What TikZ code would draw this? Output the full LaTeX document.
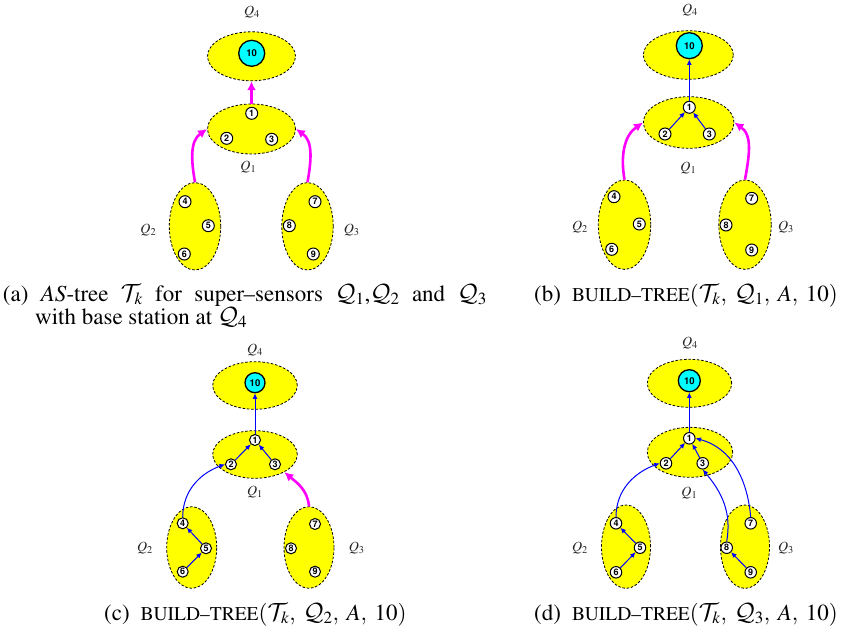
\documentclass[tikz,border=0pt]{standalone}
\usepackage[T1]{fontenc}
\usepackage{mathptmx}
\DeclareMathAlphabet{\mathcal}{OMS}{cmsy}{m}{n}
\usetikzlibrary{shapes.geometric,arrows.meta}
\definecolor{qyellow}{RGB}{255,255,0}
\definecolor{qcyan}{RGB}{0,255,255}
\definecolor{qmag}{RGB}{255,0,255}
\definecolor{qblue}{RGB}{0,0,255}
\newcommand\numfnt{\fontfamily{phv}\fontseries{b}\selectfont}
\newcommand\fakesc[1]{{\fontsize{19.5}{19.5}\selectfont #1}}
\newcommand\csep{,\hspace{5pt}}
\tikzset{
  cluster/.style={ellipse, draw=black, fill=qyellow, dash pattern=on 2.5pt off 1.8pt, line width=0.8pt, inner sep=0pt},
  sensor/.style={circle, draw=black, fill=white, line width=1pt, inner sep=0pt, minimum size=12pt, font=\numfnt\fontsize{9}{9}\selectfont},
  basest/.style={circle, draw=black, fill=qcyan, line width=1.3pt, inner sep=0pt, minimum size=26pt, font=\numfnt\fontsize{9.5}{9.5}\selectfont},
  barrow/.style={draw=qblue, line width=1pt, -{Latex[length=5.5pt,width=5pt]}},
  marrow/.style={draw=qmag, line width=2.6pt, -{Latex[length=9pt,width=9pt]}},
  qlabel/.style={font=\fontsize{14}{14}\selectfont, text=black!85, inner sep=0pt},
  capt/.style={font=\fontsize{23}{23}\selectfont, inner sep=0pt},
}
\begin{document}
\begin{tikzpicture}[x=1pt,y=1pt]
\useasboundingbox (0,0) rectangle (843,-629);
% ---------------- panel (a)
\node[cluster, minimum width=88pt, minimum height=49pt] (a4c) at (251.5,-56.3) {};
\node[basest] (a10) at (251.7,-53.3) {10};
\node[qlabel] (aL4) at (252,-12) {$Q_4$};
\node[cluster, minimum width=88pt, minimum height=50pt] (a1c) at (251.5,-129) {};
\node[sensor] (a1) at (251.7,-113.3) {1};
\node[sensor] (a2) at (226.7,-138.3) {2};
\node[sensor] (a3) at (271.7,-139.3) {3};
\node[qlabel] (aL1) at (248.3,-166.7) {$Q_1$};
\node[cluster, minimum width=51.4pt, minimum height=87.4pt] (a2c) at (195,-226.3) {};
\node[sensor] (a4) at (185,-201.7) {4};
\node[sensor] (a5) at (208.3,-225.7) {5};
\node[sensor] (a6) at (184.3,-254) {6};
\node[qlabel] (aL2) at (148.3,-230) {$Q_2$};
\node[cluster, minimum width=51.4pt, minimum height=87.4pt] (a3c) at (307.5,-226.3) {};
\node[sensor] (a7) at (315,-201.7) {7};
\node[sensor] (a8) at (289.3,-225.7) {8};
\node[sensor] (a9) at (313.3,-254) {9};
\node[qlabel] (aL3) at (351.7,-230) {$Q_3$};
\draw[marrow] (a1c) -- (a4c);
\draw[marrow] (a2c.north) to[out=100,in=215] (a1c.west);
\draw[marrow] (a3c.north) to[out=80,in=-35] (a1c.east);
% ---------------- panel (b)
\node[cluster, minimum width=90pt, minimum height=48.6pt] (b4c) at (688.3,-55) {};
\node[basest] (b10) at (689.3,-45.7) {10};
\node[qlabel] (bL4) at (690,-10) {$Q_4$};
\node[cluster, minimum width=90.6pt, minimum height=51.6pt] (b1c) at (688.7,-122.5) {};
\node[sensor] (b1) at (689.3,-107.3) {1};
\node[sensor] (b2) at (665,-134) {2};
\node[sensor] (b3) at (709.3,-134) {3};
\node[qlabel] (bL1) at (688.3,-168.3) {$Q_1$};
\node[cluster, minimum width=52.4pt, minimum height=89.4pt] (b2c) at (624.5,-224.7) {};
\node[sensor] (b4) at (614,-196.7) {4};
\node[sensor] (b5) at (639.3,-224) {5};
\node[sensor] (b6) at (611.7,-249.3) {6};
\node[qlabel] (bL2) at (580,-226.7) {$Q_2$};
\node[cluster, minimum width=52.4pt, minimum height=89.4pt] (b3c) at (745,-224.7) {};
\node[sensor] (b7) at (751.7,-198.3) {7};
\node[sensor] (b8) at (726,-225) {8};
\node[sensor] (b9) at (751.7,-250) {9};
\node[qlabel] (bL3) at (786,-226.7) {$Q_3$};
\draw[barrow] (b1) -- (b10);
\draw[barrow] (b2) -- (b1);
\draw[barrow] (b3) -- (b1);
\draw[marrow] (b2c.north) to[out=100,in=215] (b1c.west);
\draw[marrow] (b3c.north) to[out=80,in=-35] (b1c.east);
% ---------------- panel (c)
\begin{scope}[sensor/.append style={minimum size=11pt}]
\node[cluster, minimum width=84.6pt, minimum height=47.6pt] (c4c) at (255,-385.5) {};
\node[basest, minimum size=20pt] (c10) at (255,-382.7) {10};
\node[qlabel] (cL4) at (255,-350) {$Q_4$};
\node[cluster, minimum width=84.6pt, minimum height=47.6pt] (c1c) at (255,-454.5) {};
\node[sensor] (c1) at (255,-440) {1};
\node[sensor] (c2) at (231,-464.3) {2};
\node[sensor] (c3) at (275,-464.3) {3};
\node[qlabel] (cL1) at (255,-491.7) {$Q_1$};
\node[cluster, minimum width=50pt, minimum height=81.6pt] (c2c) at (191.7,-547.5) {};
\node[sensor] (c4) at (182.7,-523.3) {4};
\node[sensor] (c5) at (206,-548.3) {5};
\node[sensor] (c6) at (182.7,-571.7) {6};
\node[qlabel] (cL2) at (145,-548.3) {$Q_2$};
\node[cluster, minimum width=50pt, minimum height=81.6pt] (c3c) at (309,-547.5) {};
\node[sensor] (c7) at (315,-524) {7};
\node[sensor] (c8) at (291,-548.3) {8};
\node[sensor] (c9) at (315,-571.7) {9};
\node[qlabel] (cL3) at (356.7,-548.3) {$Q_3$};
\draw[barrow] (c1) -- (c10);
\draw[barrow] (c2) -- (c1);
\draw[barrow] (c3) -- (c1);
\draw[barrow] (c4.north) to[out=90,in=200] (c2.west);
\draw[barrow] (c5) -- (c4);
\draw[barrow] (c6) -- (c5);
\draw[marrow] (c3c.north) to[out=95,in=-40] (c1c.-31);
\end{scope}
% ---------------- panel (d)
\begin{scope}[sensor/.append style={minimum size=11.5pt}]
\node[cluster, minimum width=84.4pt, minimum height=48pt] (d4c) at (689.5,-383.3) {};
\node[basest, minimum size=22pt] (d10) at (689.3,-380.7) {10};
\node[qlabel] (dL4) at (690,-343.3) {$Q_4$};
\node[cluster, minimum width=85.4pt, minimum height=50pt] (d1c) at (690,-452.3) {};
\node[sensor] (d1) at (689.3,-438.3) {1};
\node[sensor] (d2) at (666,-463.3) {2};
\node[sensor] (d3) at (702.7,-463.3) {3};
\node[qlabel] (dL1) at (689.3,-493.3) {$Q_1$};
\node[cluster, minimum width=49pt, minimum height=83.4pt] (d2c) at (626,-546.7) {};
\node[sensor] (d4) at (616,-523.3) {4};
\node[sensor] (d5) at (640,-547.7) {5};
\node[sensor] (d6) at (616,-572.3) {6};
\node[qlabel] (dL2) at (580,-548.3) {$Q_2$};
\node[cluster, minimum width=49pt, minimum height=83.4pt] (d3c) at (745,-546.7) {};
\node[sensor] (d7) at (750.7,-523.3) {7};
\node[sensor] (d8) at (726.7,-547.7) {8};
\node[sensor] (d9) at (750.7,-572.3) {9};
\node[qlabel] (dL3) at (786,-548.3) {$Q_3$};
\draw[barrow] (d1) -- (d10);
\draw[barrow] (d2) -- (d1);
\draw[barrow] (d3) -- (d1);
\draw[barrow] (d4.north) to[out=90,in=200] (d2.west);
\draw[barrow] (d5) -- (d4);
\draw[barrow] (d6) -- (d5);
\draw[barrow] (d8.north) to[out=80,in=-50] (d3.south);
\draw[barrow] (d9) -- (d8);
\draw[barrow] (d7.north) to[out=95,in=-15] (d1.east);
\end{scope}
% ---------------- captions
\node[capt, anchor=base west] (capa) at (2.7,-301) {\parbox[t]{484pt}{\makebox[484pt][s]{(a) $AS$-tree $\mathcal{T}_k$ for super--sensors $\mathcal{Q}_1$,$\mathcal{Q}_2$ and $\mathcal{Q}_3$}\\\hspace*{32.3pt}with base station at $\mathcal{Q}_4$}};
\node[capt, anchor=base east] (capb) at (838,-301) {(b)\hspace{11pt}\fakesc{BUILD--TREE}$(\mathcal{T}_k\csep \mathcal{Q}_1\csep A\csep 10)$};
\node[capt, anchor=base east] (capc) at (406.7,-620) {(c)\hspace{11pt}\fakesc{BUILD--TREE}$(\mathcal{T}_k\csep \mathcal{Q}_2\csep A\csep 10)$};
\node[capt, anchor=base east] (capd) at (838,-620) {(d)\hspace{11pt}\fakesc{BUILD--TREE}$(\mathcal{T}_k\csep \mathcal{Q}_3\csep A\csep 10)$};
\end{tikzpicture}
\end{document}
